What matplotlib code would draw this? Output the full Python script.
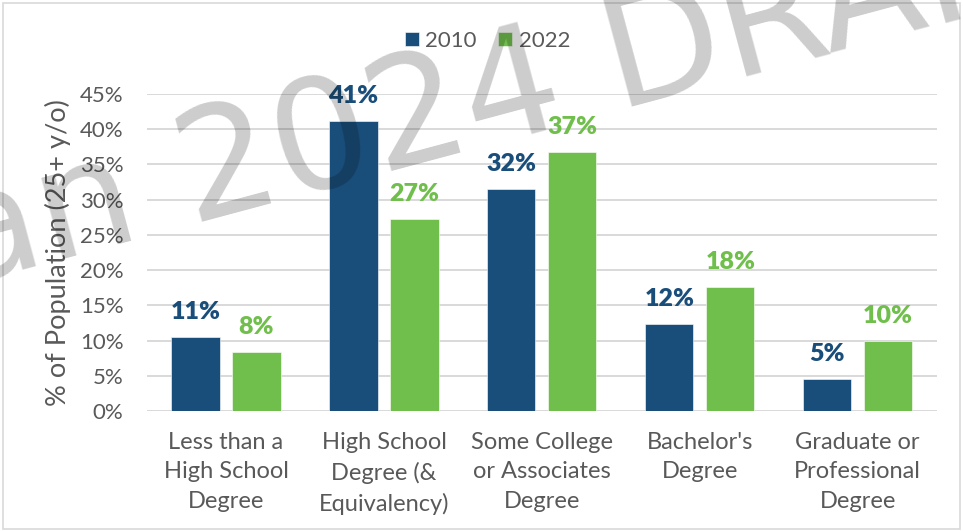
import matplotlib
matplotlib.use("Agg")
import matplotlib.pyplot as plt
import numpy as np

plt.rcParams['font.family'] = ['Lato', 'DejaVu Sans']

categories = ["Less than a\nHigh School\nDegree",
              "High School\nDegree (&\nEquivalency)",
              "Some College\nor Associates\nDegree",
              "Bachelor's\nDegree",
              "Graduate or\nProfessional\nDegree"]
years = ["2010", "2022"]
values_2010 = [10.5, 41.2, 31.5, 12.3, 4.6]
values_2022 = [8.4, 27.3, 36.8, 17.6, 9.9]
labels_2010 = ["11%", "41%", "32%", "12%", "5%"]
labels_2022 = ["8%", "27%", "37%", "18%", "10%"]
yticks = [0, 5, 10, 15, 20, 25, 30, 35, 40, 45]

blue = '#1a4e7a'
green = '#70bf4c'
gray_text = '#595959'
grid_col = '#d9d9d9'

fig = plt.figure(figsize=(9.63, 5.31), dpi=100)
ax = fig.add_axes([0.1527, 0.226, 0.820, 0.597])

x = np.arange(len(categories))
off = 0.193
w = 0.305
b1 = ax.bar(x - off, values_2010, w, color=blue, edgecolor='#ffffff', linewidth=0.4,
            label=years[0], zorder=3)
b2 = ax.bar(x + off, values_2022, w, color=green, edgecolor='#ffffff', linewidth=0.4,
            label=years[1], zorder=3)

for bars, labs, col in [(b1, labels_2010, blue), (b2, labels_2022, green)]:
    for rect, lab in zip(bars, labs):
        ax.annotate(lab, (rect.get_x() + rect.get_width() / 2, rect.get_height()),
                    xytext=(0, 13), textcoords='offset points', ha='center', va='baseline',
                    fontsize=18, fontweight='heavy', color=col, zorder=4)

ax.set_xlim(-0.5, len(categories) - 0.5)
ax.set_ylim(0, 45)
ax.set_yticks(yticks)
ax.set_yticklabels([f"{t}%" for t in yticks])
ax.set_xticks(x)
ax.set_xticklabels(categories, linespacing=1.5)
ax.tick_params(axis='both', length=0, labelsize=16, colors=gray_text)
ax.tick_params(axis='x', pad=15, labelsize=17)
ax.tick_params(axis='y', pad=17)
ax.yaxis.grid(True, color=grid_col, linewidth=1.4, zorder=0)
ax.set_axisbelow(True)
for s in ax.spines.values():
    s.set_visible(False)
ax.set_ylabel("% of Population (25+ y/o)", fontsize=19.5, color=gray_text, labelpad=6)

leg = fig.legend(handles=[b1, b2], labels=years, loc='center', bbox_to_anchor=(0.506, 0.923),
                 ncol=2, frameon=False, fontsize=16, handlelength=0.63, handleheight=0.6,
                 handletextpad=0.3, columnspacing=0.95)
for t in leg.get_texts():
    t.set_color(gray_text)

# border around the chart area
fig.patches.append(plt.Rectangle((0.003, 0.004), 0.994, 0.990, transform=fig.transFigure,
                                 fill=False, edgecolor=grid_col, linewidth=1.2))

# draft watermark
fig.text(-0.043, 0.460, "an 2024 DRAFT", fontsize=111, color='black', alpha=0.2,
         rotation=15, rotation_mode='anchor', ha='left', va='baseline',
         family=['DejaVu Sans'], zorder=10)

fig.savefig("out.png", dpi=100)
